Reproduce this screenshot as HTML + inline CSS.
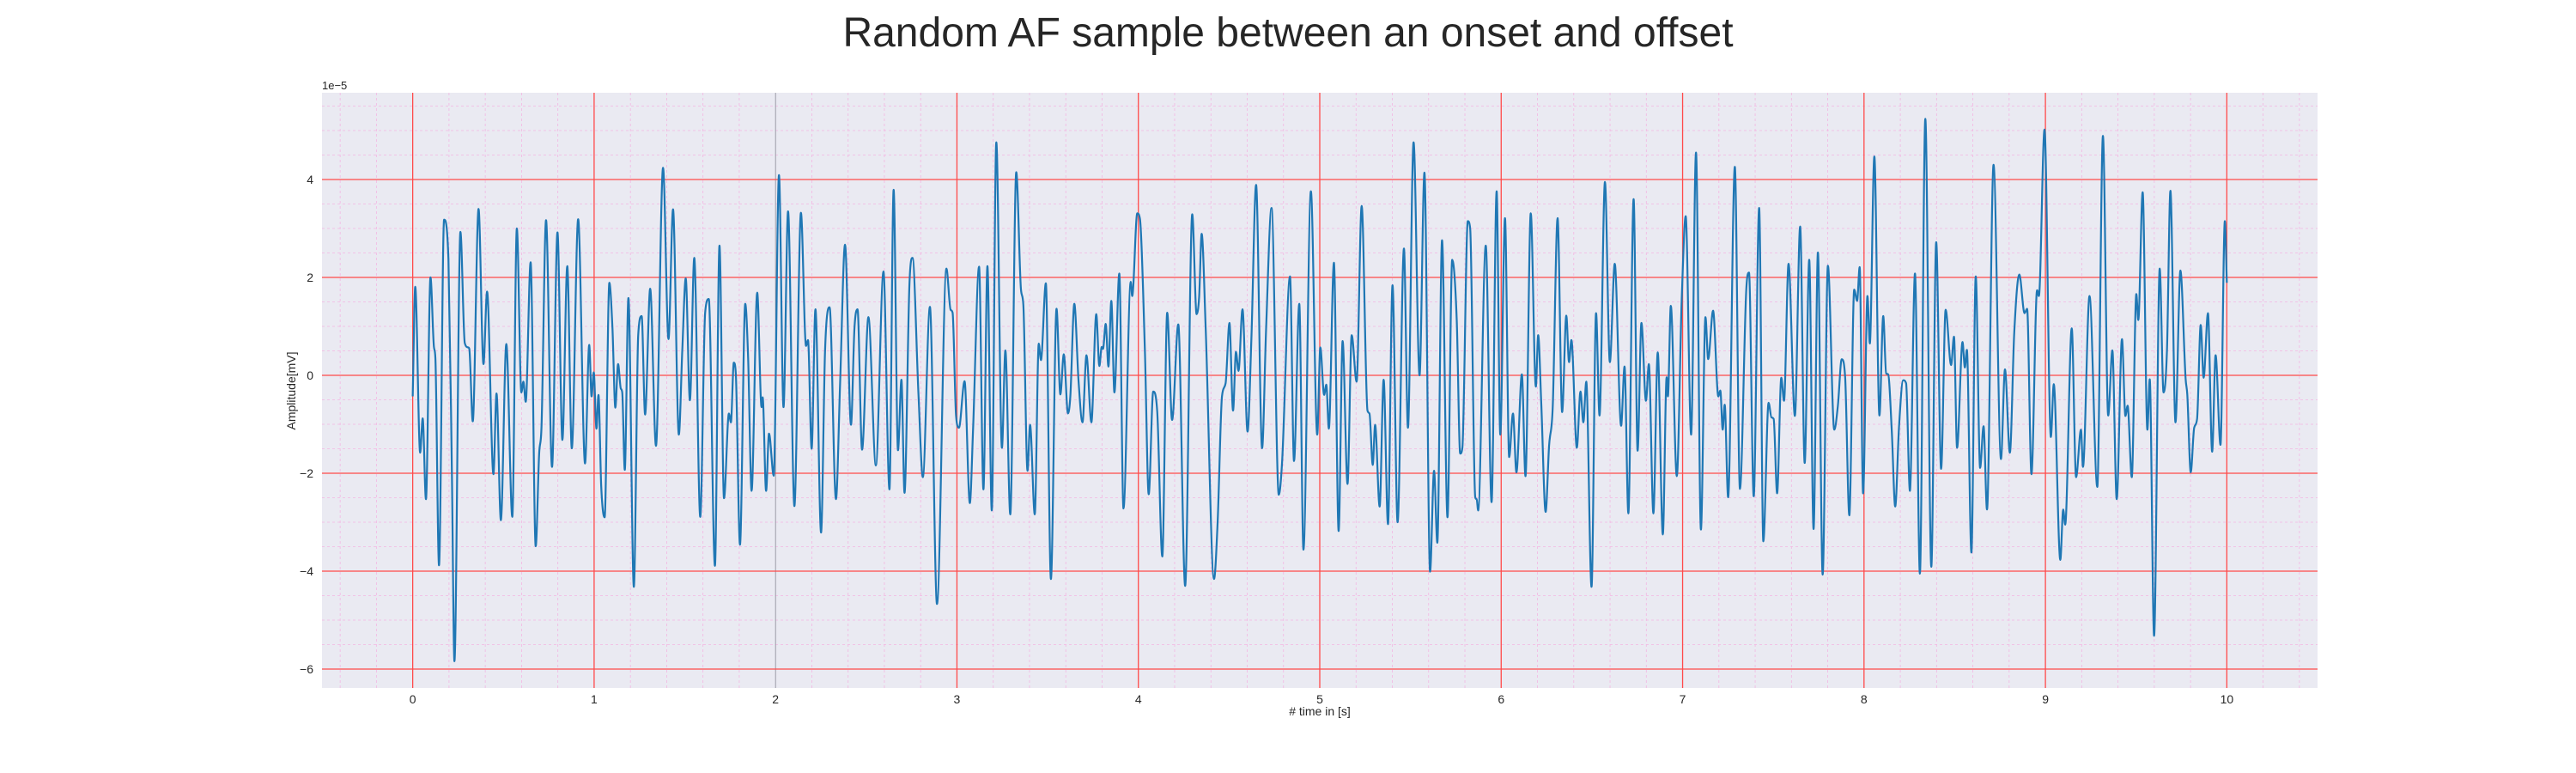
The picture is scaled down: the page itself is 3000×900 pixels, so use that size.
<!DOCTYPE html>
<html><head><meta charset="utf-8"><style>
html,body{margin:0;padding:0;background:#fff;}
svg{display:block;font-family:"Liberation Sans",Arial,sans-serif;}
</style></head><body>
<svg id="chart" width="3000" height="900" viewBox="0 0 3000 900" xmlns="http://www.w3.org/2000/svg">
<text x="1500" y="54" text-anchor="middle" font-size="48" fill="#262626">Random AF sample between an onset and offset</text>
<rect x="375" y="108" width="2324" height="693" fill="#eaeaf2"/>
<g id="grid"></g>
<g id="series"></g>
<g id="axes"></g>
<text x="375" y="104" font-size="13" fill="#262626">1e−5</text>
<text x="1537" y="833" text-anchor="middle" font-size="14" fill="#262626"># time in [s]</text>
<text x="0" y="0" transform="translate(344,455) rotate(-90)" text-anchor="middle" font-size="14" fill="#262626">Amplitude[mV]</text>
</svg>
<script>
const xTicks=[0,1,2,3,4,5,6,7,8,9,10];
const yTicks=[-6,-4,-2,0,2,4];
const xDomain=[-0.5,10.5];
const yDomain=[-6.386,5.772];
const times=[0.000,0.014,0.041,0.055,0.073,0.098,0.117,0.125,0.145,0.173,0.197,0.216,0.230,0.263,0.287,0.306,0.312,0.331,0.363,0.390,0.410,0.445,0.462,0.486,0.516,0.549,0.574,0.599,0.610,0.623,0.650,0.678,0.697,0.710,0.735,0.768,0.798,0.825,0.852,0.877,0.912,0.950,0.973,0.986,0.998,1.013,1.024,1.039,1.058,1.084,1.101,1.117,1.132,1.147,1.155,1.169,1.189,1.219,1.243,1.262,1.281,1.309,1.341,1.380,1.410,1.435,1.467,1.486,1.505,1.528,1.552,1.585,1.612,1.632,1.666,1.691,1.716,1.743,1.754,1.770,1.781,1.804,1.833,1.849,1.868,1.899,1.923,1.929,1.948,1.964,1.990,
2.019,2.044,2.069,2.104,2.140,2.168,2.179,2.199,2.220,2.251,2.273,2.298,2.333,2.356,2.383,2.416,2.435,2.452,2.477,2.512,2.553,2.595,2.628,2.651,2.675,2.694,2.711,2.738,2.755,2.788,2.812,2.851,2.890,2.942,2.965,2.976,2.995,3.011,3.042,3.071,3.089,3.122,3.146,3.168,3.192,3.217,3.248,3.267,3.294,3.327,3.353,3.366,3.389,3.403,3.429,3.451,3.463,3.490,3.518,3.549,3.570,3.589,3.612,3.625,3.647,3.670,3.692,3.714,3.741,3.768,3.785,3.798,3.805,3.820,3.835,3.851,3.868,3.895,3.918,3.958,3.966,3.994,
4.009,4.036,4.057,4.082,4.104,4.132,4.159,4.186,4.220,4.258,4.297,4.321,4.335,4.349,4.371,4.417,4.437,4.461,4.481,4.502,4.522,4.538,4.552,4.574,4.602,4.623,4.649,4.682,4.704,4.734,4.774,4.792,4.836,4.858,4.887,4.910,4.951,4.986,5.003,5.024,5.036,5.050,5.078,5.104,5.126,5.153,5.176,5.203,5.231,5.263,5.274,5.292,5.305,5.330,5.352,5.376,5.401,5.429,5.464,5.486,5.517,5.550,5.577,5.608,5.630,5.648,5.674,5.704,5.730,5.755,5.774,5.786,5.816,5.829,5.857,5.865,5.873,5.915,5.947,5.975,
5.995,6.021,6.044,6.065,6.084,6.114,6.134,6.163,6.191,6.204,6.221,6.245,6.264,6.284,6.311,6.336,6.359,6.374,6.387,6.417,6.437,6.453,6.469,6.498,6.523,6.542,6.572,6.599,6.626,6.661,6.680,6.701,6.730,6.752,6.773,6.798,6.814,6.839,6.863,6.891,6.912,6.919,6.935,6.968,6.995,7.017,7.047,7.074,7.101,7.126,7.141,7.168,7.197,7.208,7.221,7.232,7.251,7.288,7.316,7.351,7.366,7.392,7.422,7.445,7.474,7.490,7.502,7.521,7.544,7.559,7.584,7.619,7.648,7.673,7.698,7.722,7.746,7.772,7.801,7.836,7.856,7.877,7.896,7.919,7.946,7.962,7.976,
7.995,8.019,8.032,8.057,8.085,8.106,8.122,8.133,8.153,8.172,8.193,8.216,8.232,8.253,8.281,8.308,8.338,8.371,8.398,8.425,8.450,8.480,8.496,8.513,8.543,8.556,8.567,8.592,8.616,8.640,8.659,8.678,8.714,8.755,8.777,8.804,8.828,8.856,8.885,8.899,8.923,8.954,8.964,8.995,9.030,9.046,9.082,9.098,9.109,9.145,9.169,9.196,9.207,9.243,9.286,9.317,9.346,9.369,9.393,9.422,9.441,9.453,9.476,9.501,9.512,9.536,9.562,9.575,9.599,9.630,9.651,9.670,9.689,9.717,9.744,9.773,9.782,9.801,9.820,9.836,9.856,9.872,9.896,9.919,9.938,9.965,9.989,10.000];
const values=[-0.43,1.81,-1.58,-0.88,-2.53,2.00,0.58,0.35,-3.88,3.18,2.37,-1.98,-5.84,2.93,0.66,0.57,0.54,-0.94,3.40,0.23,1.71,-2.02,-0.37,-2.96,0.64,-2.89,3.00,-0.35,-0.13,-0.54,2.31,-3.49,-1.60,-1.05,3.17,-1.87,2.92,-1.32,2.23,-1.49,3.19,-1.80,0.62,-0.43,0.06,-1.09,-0.40,-2.26,-2.90,1.89,0.97,-0.66,0.23,-0.27,-0.35,-1.93,1.58,-4.32,0.82,1.21,-0.80,1.77,-1.44,4.24,0.74,3.39,-1.21,0.51,1.98,-0.51,2.40,-2.89,1.28,1.56,-3.89,2.65,-2.51,-0.78,-0.96,0.26,0.04,-3.46,1.46,0.35,-2.36,1.69,-0.65,-0.45,-2.36,-1.19,-2.05,
4.09,-0.65,3.35,-2.67,3.32,0.60,0.72,-1.50,1.35,-3.21,0.51,1.39,-2.53,-0.16,2.67,-1.01,0.96,1.35,-1.52,1.19,-1.84,2.12,-2.33,3.79,-1.53,-0.09,-2.40,1.85,2.40,-0.39,-2.08,1.40,-4.67,2.18,1.34,1.28,-0.82,-1.07,-0.12,-2.61,-1.09,2.22,-2.33,2.23,-2.76,4.76,-1.48,0.51,-2.84,4.15,1.75,1.44,-1.95,-1.01,-2.84,0.65,0.31,1.88,-4.16,1.36,-0.39,0.43,-0.78,-0.43,1.46,-0.10,-0.96,0.41,-0.96,1.25,0.19,0.58,0.54,1.05,0.18,1.52,-0.35,2.08,-2.72,1.91,1.62,3.31,
3.19,0.51,-2.43,-0.33,-0.74,-3.70,1.28,-0.91,1.04,-4.30,3.29,1.25,1.60,2.89,0.97,-4.16,-3.00,-0.43,-0.16,1.07,-0.72,0.48,0.09,1.35,-1.15,0.74,3.89,-1.49,0.93,3.42,-2.44,-1.79,2.02,-1.75,1.46,-3.56,3.76,-1.21,0.57,-0.40,-0.19,-1.09,2.30,-3.18,0.70,-2.22,0.82,-0.13,3.46,-0.72,-0.78,-1.83,-1.01,-2.68,-0.09,-3.04,1.84,-3.00,2.59,-1.07,4.76,0.00,4.14,-4.01,-1.95,-3.42,2.76,-2.90,2.36,1.13,-1.60,-1.48,3.15,3.00,-2.49,-2.53,-2.76,2.65,-2.59,3.76,
-1.21,3.21,-1.67,-0.78,-1.98,0.02,-2.06,3.31,-0.23,0.82,-0.58,-2.79,-1.44,-0.66,3.21,-0.75,1.22,0.27,0.72,-1.48,-0.33,-0.96,-0.13,-4.32,1.27,-0.82,3.95,0.27,2.28,-1.03,0.18,-2.82,3.60,-1.54,1.07,-0.52,0.23,-2.82,0.47,-3.25,-0.04,-0.43,1.42,-2.06,1.53,3.25,-1.21,4.55,-3.15,1.19,0.33,1.32,-0.43,-0.31,-1.11,-0.60,-2.49,4.26,-2.32,1.75,2.10,-2.47,3.42,-3.39,-0.56,-0.86,-0.89,-2.41,-0.05,-0.52,2.28,-0.83,3.04,-1.79,2.36,-3.14,2.51,-4.07,2.24,-1.11,-0.62,0.33,-0.04,-2.86,1.75,1.52,2.21,
-2.41,1.62,0.65,4.47,-0.82,1.21,0.04,0.02,-1.13,-2.68,-1.05,-0.10,-0.16,-2.36,2.08,-4.05,5.24,-3.91,2.72,-1.91,1.34,0.21,0.79,-1.48,0.68,0.16,0.52,-3.62,2.02,-1.89,-1.04,-2.74,4.30,-1.71,0.12,-1.58,0.86,2.06,1.27,1.36,-2.02,1.74,1.62,5.02,-1.26,-0.18,-3.77,-2.74,-3.05,0.96,-2.08,-1.11,-1.87,1.62,-2.28,4.89,-0.82,0.51,-2.53,0.74,-0.83,-0.62,-2.08,1.66,1.13,3.74,-1.11,-0.08,-5.32,2.18,-0.35,0.51,3.77,-0.96,2.14,-0.08,-0.39,-1.98,-1.07,-0.89,1.03,-0.05,1.27,-1.56,0.41,-1.42,3.15,1.89];

const L=375,R=2699,T=108,B=801;
function xs(v){return L+(v-xDomain[0])/(xDomain[1]-xDomain[0])*(R-L);}
function ys(v){return B-(v-yDomain[0])/(yDomain[1]-yDomain[0])*(B-T);}
const NS='http://www.w3.org/2000/svg';
const grid=document.getElementById('grid');
const axes=document.getElementById('axes');
function line(g,x1,y1,x2,y2,stroke,w,dash){
  const l=document.createElementNS(NS,'line');
  l.setAttribute('x1',x1);l.setAttribute('y1',y1);l.setAttribute('x2',x2);l.setAttribute('y2',y2);
  l.setAttribute('stroke',stroke);l.setAttribute('stroke-width',w);
  if(dash)l.setAttribute('stroke-dasharray',dash);
  g.appendChild(l);return l;
}
for(let v=-0.4;v<=10.41;v+=0.2){
  if(Math.abs(v-Math.round(v))<1e-6)continue;
  const l=line(grid,xs(v),T,xs(v),B,'#f3b6e2',0.8,'3,3');
  
  
}
for(let v=-6.0;v<=5.6;v+=0.5){
  if(Math.abs(v/2-Math.round(v/2))<1e-6)continue;
  const l=line(grid,L,ys(v),R,ys(v),'#f3b6e2',0.8,'3,3');
  
  
}
xTicks.forEach(v=>{
  const c=(v===2)?'#8a8a96':'#ff4a4a';
  const l=line(grid,xs(v),T,xs(v),B,c,v===2?0.8:1.3);
  
  
  const t=document.createElementNS(NS,'text');
  t.setAttribute('x',xs(v));t.setAttribute('y',B+18);
  t.setAttribute('text-anchor','middle');t.setAttribute('font-size','14');t.setAttribute('fill','#262626');
  t.textContent=v;
  
  
  axes.appendChild(t);
});
yTicks.forEach(v=>{
  const l=line(grid,L,ys(v),R,ys(v),'#ff4a4a',1.3);
  
  
  const t=document.createElementNS(NS,'text');
  t.setAttribute('x',L-10);t.setAttribute('y',ys(v)+5);
  t.setAttribute('text-anchor','end');t.setAttribute('font-size','14');t.setAttribute('fill','#262626');
  t.textContent=(v<0?'−':'')+Math.abs(v);
  
  
  axes.appendChild(t);
});
function monotonePath(px,py){
  const n=px.length,m=new Array(n),d=[];
  for(let i=0;i<n-1;i++){const h=px[i+1]-px[i];d.push(h===0?0:(py[i+1]-py[i])/h);}
  m[0]=d[0];m[n-1]=d[n-2];
  for(let i=1;i<n-1;i++){m[i]=(d[i-1]*d[i]<=0)?0:(d[i-1]+d[i])/2;}
  for(let i=0;i<n-1;i++){
    if(d[i]===0){m[i]=0;m[i+1]=0;continue;}
    const a=m[i]/d[i],b=m[i+1]/d[i],s=a*a+b*b;
    if(s>9){const t=3/Math.sqrt(s);m[i]=t*a*d[i];m[i+1]=t*b*d[i];}
  }
  let s='M'+px[0].toFixed(2)+','+py[0].toFixed(2);
  for(let i=0;i<n-1;i++){
    const h=(px[i+1]-px[i])/3;
    s+='C'+(px[i]+h).toFixed(2)+','+(py[i]+m[i]*h).toFixed(2)+' '+(px[i+1]-h).toFixed(2)+','+(py[i+1]-m[i+1]*h).toFixed(2)+' '+px[i+1].toFixed(2)+','+py[i+1].toFixed(2);
  }
  return s;
}
const px=times.map(xs),py=values.map(ys);
const p=document.createElementNS(NS,'path');
p.setAttribute('d',monotonePath(px,py));
p.setAttribute('fill','none');p.setAttribute('stroke','#1f77b4');p.setAttribute('stroke-width','2.2');
p.setAttribute('stroke-linejoin','round');


document.getElementById('series').appendChild(p);
</script>
</body></html>
